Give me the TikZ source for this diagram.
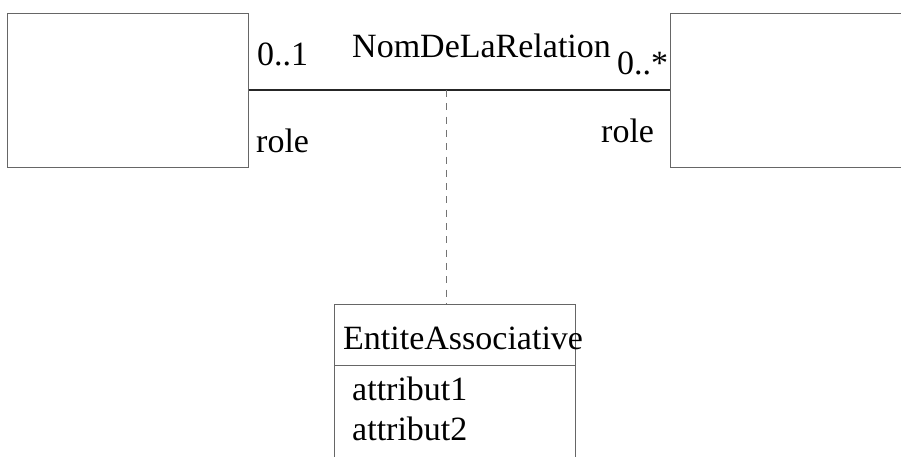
\documentclass[tikz,border=0pt]{standalone}
\usepackage{fontspec}
\setmainfont{Liberation Serif}
\begin{document}
\begin{tikzpicture}[x=1pt,y=-1pt,
  classbox/.style={draw=black!60,line width=1pt,rectangle,inner sep=0pt},
  lbl/.style={anchor=base west,inner sep=0pt,font=\fontsize{34}{40}\selectfont},
  assoc/.style={draw=black!85,line width=1.2pt},
  dashlink/.style={draw=black!55,line width=1pt,dash pattern=on 7pt off 6.3pt}]
\useasboundingbox (0,0) rectangle (901,456);
\clip (0,0) rectangle (901,456);
% the two classes
\node[classbox,minimum width=241pt,minimum height=154pt] (left) at (127.5,90) {};
\node[classbox,minimum width=241pt,minimum height=154pt] (right) at (790.5,90) {};
% association line between them
\draw[assoc] (left.east) -- (right.west);
% association class
\node[classbox,minimum width=241pt,minimum height=186pt] (entity) at (454.5,397) {};
\draw[draw=black!60,line width=1pt] (334,365) -- (575,365);
\coordinate (mid) at (446,90);
\draw[dashlink] (mid) -- (mid |- entity.north);
% labels
\node[lbl] (m1) at (257,65) {0..1};
\node[lbl] (name) at (352,57) {NomDeLaRelation};
\node[lbl] (m2) at (617,74) {0..*};
\node[lbl] (r1) at (256,152) {role};
\node[lbl] (r2) at (601,142) {role};
\node[lbl] (ename) at (343,349) {EntiteAssociative};
\node[lbl] (a1) at (352,400) {attribut1};
\node[lbl] (a2) at (352,440) {attribut2};
\end{tikzpicture}
\end{document}
